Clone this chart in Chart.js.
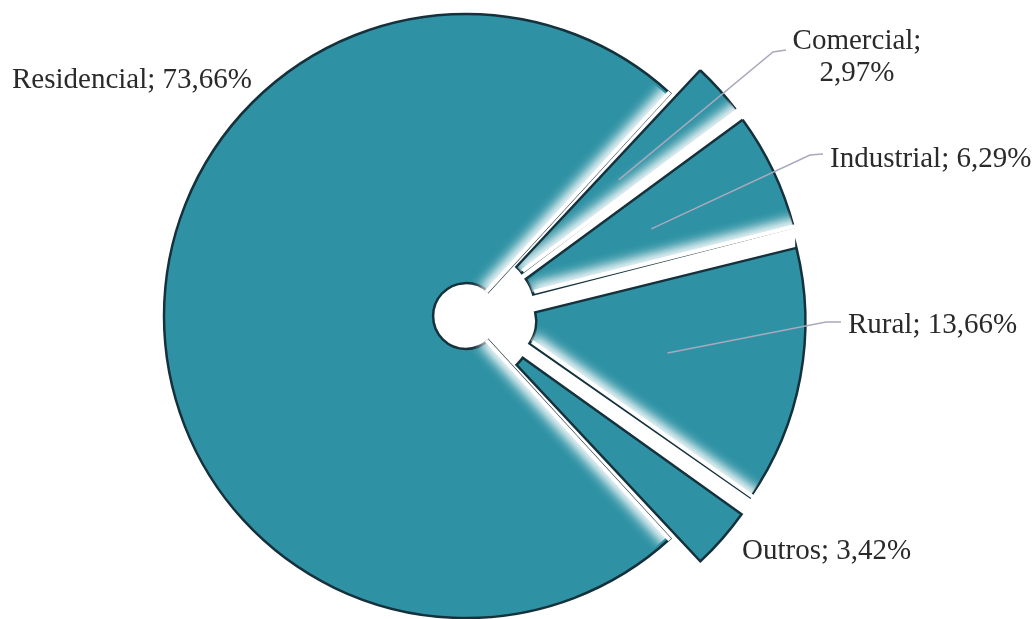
<!DOCTYPE html>
<html>
<head>
<meta charset="utf-8">
<script src="https://cdn.jsdelivr.net/npm/chart.js@4.4.1/dist/chart.umd.min.js"></script>
<style>
  html, body { margin: 0; padding: 0; background: #fff; }
  #wrap { width: 1036px; height: 619px; position: relative; }
</style>
</head>
<body>
<div id="wrap"><canvas id="pie"></canvas></div>
<script>
// participação por classe de consumo (%)
const categories = ['Residencial', 'Comercial', 'Industrial', 'Rural', 'Outros'];
const shares = [73.66, 2.97, 6.29, 13.66, 3.42];

// label layout (px), one entry per category
const labelSpots = [
  { x: 12, y: 88, align: 'left', split: false, elbow: null },
  { x: 857, y: 49, align: 'center', split: true, elbow: [[773, 52], [786, 50]] },
  { x: 830, y: 167, align: 'left', split: false, elbow: [[810, 155], [823, 154]] },
  { x: 848, y: 333, align: 'left', split: false, elbow: [[826, 322], [841, 322]] },
  { x: 742, y: 559, align: 'left', split: false, elbow: null },
];
// which radial edges get the soft white fade
const fadeEdges = [['start', 'end'], ['end'], ['end'], ['end'], []];

const FILL = '#2e92a4';
const EDGE = '#15313b';
const FONT = '29px "Liberation Serif", "Times New Roman", serif';

function fmt(v) {
  return v.toFixed(2).replace('.', ',') + '%';
}

// same shift ArcElement.draw applies for `offset`
function arcShift(arc) {
  const o = arc.options.offset || 0;
  const fix = 1 - Math.sin(Math.min(Math.PI, arc.circumference || 0));
  const t = (o / 4) * (1 + fix);
  const h = (arc.startAngle + arc.endAngle) / 2;
  return [Math.cos(h) * t, Math.sin(h) * t];
}

const softEdges = {
  id: 'softEdges',
  afterDatasetsDraw(chart) {
    const { ctx } = chart;
    chart.getDatasetMeta(0).data.forEach((arc, i) => {
      const edges = fadeEdges[i] || [];
      if (!edges.length) return;
      const [dx, dy] = arcShift(arc);
      const { x, y, startAngle, endAngle, innerRadius, outerRadius } = arc;
      ctx.save();
      ctx.translate(x + dx, y + dy);
      ctx.save();
      ctx.beginPath();
      ctx.arc(0, 0, outerRadius, startAngle, endAngle);
      ctx.arc(0, 0, innerRadius, endAngle, startAngle, true);
      ctx.closePath();
      ctx.clip();
      ctx.filter = 'blur(6px)';
      ctx.strokeStyle = '#fff';
      ctx.lineWidth = 16;
      edges.forEach((e) => {
        const a = e === 'start' ? startAngle : endAngle;
        ctx.beginPath();
        ctx.moveTo(Math.cos(a) * innerRadius, Math.sin(a) * innerRadius);
        ctx.lineTo(Math.cos(a) * (outerRadius + 12), Math.sin(a) * (outerRadius + 12));
        ctx.stroke();
      });
      ctx.restore();
      ctx.strokeStyle = '#fff';
      ctx.lineWidth = 4;
      edges.forEach((e) => {
        const a = e === 'start' ? startAngle : endAngle;
        ctx.beginPath();
        ctx.moveTo(Math.cos(a) * (innerRadius + 2), Math.sin(a) * (innerRadius + 2));
        ctx.lineTo(Math.cos(a) * (outerRadius + 4), Math.sin(a) * (outerRadius + 4));
        ctx.stroke();
      });
      ctx.restore();
    });
  },
};

const sliceLabels = {
  id: 'sliceLabels',
  afterDraw(chart) {
    const { ctx } = chart;
    const meta = chart.getDatasetMeta(0);
    ctx.save();
    meta.data.forEach((arc, i) => {
      const spot = labelSpots[i];
      if (spot.elbow) {
        const [dx, dy] = arcShift(arc);
        const h = (arc.startAngle + arc.endAngle) / 2;
        const r = arc.outerRadius * 0.55;
        ctx.beginPath();
        ctx.moveTo(arc.x + dx + Math.cos(h) * r, arc.y + dy + Math.sin(h) * r);
        spot.elbow.forEach(([px, py]) => ctx.lineTo(px, py));
        ctx.strokeStyle = '#a9a9bd';
        ctx.lineWidth = 1.5;
        ctx.stroke();
      }
      ctx.font = FONT;
      ctx.fillStyle = '#2a2a2a';
      ctx.textAlign = spot.align;
      ctx.textBaseline = 'alphabetic';
      const name = categories[i] + ';';
      const pct = fmt(shares[i]);
      if (spot.split) {
        ctx.fillText(name, spot.x, spot.y);
        ctx.fillText(pct, spot.x, spot.y + 32);
      } else {
        ctx.fillText(name + ' ' + pct, spot.x, spot.y);
      }
    });
    ctx.restore();
  },
};

new Chart(document.getElementById('pie'), {
  type: 'doughnut',
  data: {
    labels: categories,
    datasets: [{
      data: shares,
      backgroundColor: FILL,
      borderColor: EDGE,
      borderWidth: 2.5,
      borderJoinStyle: 'miter',
      offset: [8, 84, 94, 122, 85],
    }],
  },
  options: {
    responsive: true,
    maintainAspectRatio: false,
    animation: false,
    rotation: 137.4,
    radius: 300,
    cutout: '10.3%',
    layout: { padding: { left: 0, right: 100, top: 13, bottom: 0 } },
    plugins: {
      legend: { display: false },
      tooltip: { enabled: false },
    },
  },
  plugins: [softEdges, sliceLabels],
});
</script>
</body>
</html>
